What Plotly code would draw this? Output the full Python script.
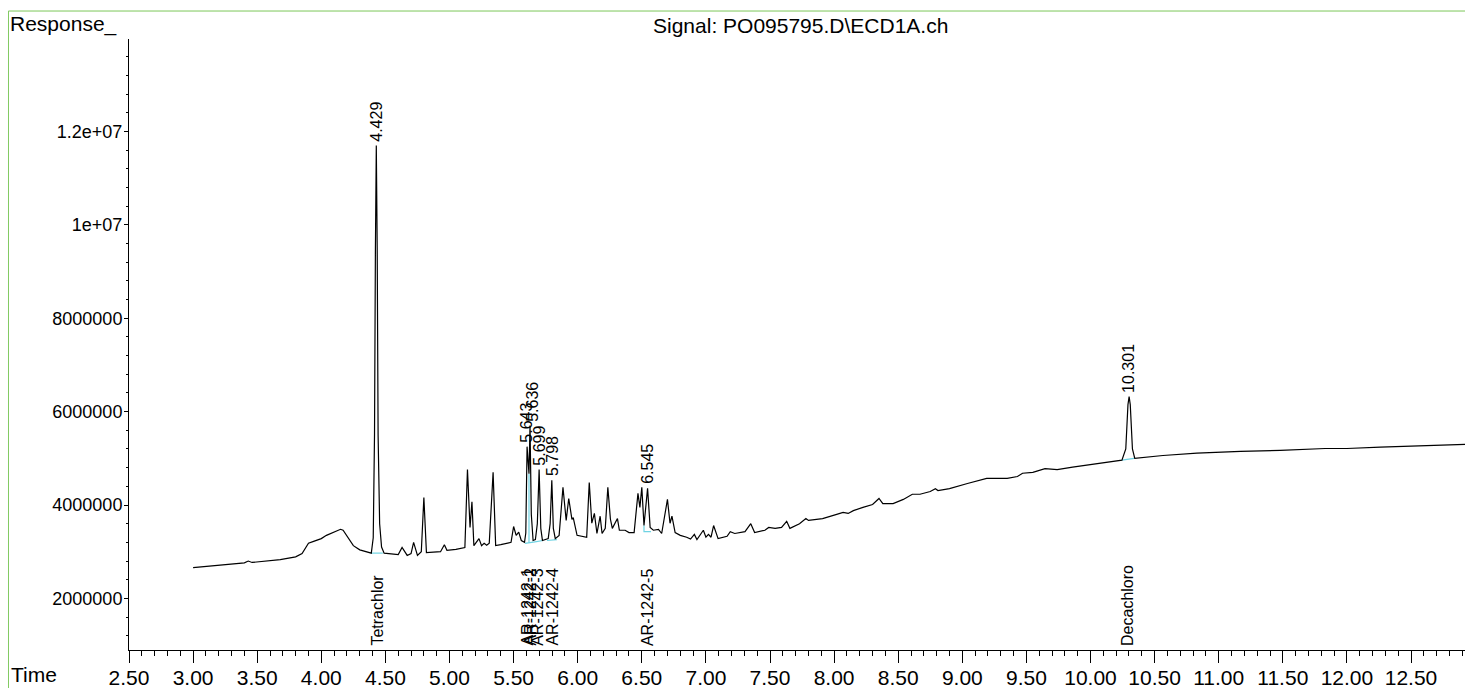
import plotly.graph_objects as go

# ---------------- data ----------------
time_min = [
    3.00, 3.20, 3.40, 3.43, 3.46, 3.68, 3.80, 3.85, 3.90, 3.94, 4.00, 4.04, 4.10, 4.15, 4.17,
    4.21, 4.25, 4.30, 4.35, 4.39, 4.405, 4.415, 4.422, 4.429, 4.436, 4.443, 4.455, 4.47, 4.49,
    4.55, 4.60, 4.63, 4.67, 4.70, 4.72, 4.75, 4.78, 4.80, 4.82, 4.93, 4.96, 4.98, 5.05, 5.12,
    5.14, 5.16, 5.175, 5.19, 5.21, 5.23, 5.25, 5.27, 5.29, 5.31, 5.34, 5.36, 5.40, 5.45, 5.48,
    5.50, 5.52, 5.54, 5.56, 5.585, 5.595, 5.605, 5.613, 5.620, 5.628, 5.638, 5.652, 5.67,
    5.685, 5.699, 5.712, 5.725, 5.77, 5.785, 5.798, 5.81, 5.825, 5.855, 5.885, 5.91, 5.93,
    5.955, 5.965, 5.995, 6.07, 6.09, 6.11, 6.13, 6.15, 6.175, 6.19, 6.215, 6.235, 6.255, 6.27,
    6.31, 6.325, 6.37, 6.40, 6.44, 6.47, 6.485, 6.50, 6.517, 6.545, 6.565, 6.59, 6.63, 6.655,
    6.70, 6.72, 6.735, 6.76, 6.80, 6.85, 6.88, 6.91, 6.93, 6.98, 7.00, 7.02, 7.04, 7.06, 7.095,
    7.165, 7.19, 7.225, 7.305, 7.35, 7.38, 7.46, 7.49, 7.54, 7.59, 7.63, 7.655, 7.73, 7.78,
    7.80, 7.91, 8.02, 8.07, 8.11, 8.15, 8.225, 8.30, 8.35, 8.38, 8.46, 8.54, 8.61, 8.67, 8.75,
    8.79, 8.81, 8.90, 9.04, 9.11, 9.19, 9.35, 9.43, 9.47, 9.55, 9.645, 9.74, 9.86, 10.06,
    10.15, 10.245, 10.275, 10.292, 10.301, 10.310, 10.327, 10.345, 10.565, 10.83, 11.17,
    11.48, 11.83, 12.00, 12.26, 12.52, 12.78, 12.96,
]
response = [
    2.66e6, 2.71e6, 2.76e6, 2.80e6, 2.77e6, 2.83e6, 2.89e6, 2.96e6, 3.18e6, 3.22e6, 3.28e6, 3.35e6, 3.42e6, 3.48e6, 3.46e6,
    3.30e6, 3.13e6, 3.04e6, 3.00e6, 2.97e6, 3.30e6, 5.50e6, 9.50e6, 11.70e6, 9.50e6, 5.50e6, 3.60e6, 3.10e6, 2.97e6,
    2.95e6, 2.94e6, 3.09e6, 2.92e6, 2.96e6, 3.20e6, 2.92e6, 3.00e6, 4.16e6, 2.98e6, 3.00e6, 3.15e6, 3.03e6, 3.05e6, 3.09e6,
    4.76e6, 3.52e6, 4.07e6, 3.13e6, 3.20e6, 3.28e6, 3.13e6, 3.18e6, 3.14e6, 3.18e6, 4.70e6, 3.13e6, 3.15e6, 3.18e6, 3.20e6,
    3.54e6, 3.35e6, 3.42e6, 3.24e6, 3.20e6, 3.40e6, 5.25e6, 4.75e6, 4.67e6, 5.70e6, 3.80e6, 3.24e6, 3.26e6,
    3.60e6, 4.76e6, 3.50e6, 3.24e6, 3.28e6, 3.60e6, 4.53e6, 3.50e6, 3.28e6, 3.35e6, 4.38e6, 3.67e6, 4.14e6,
    3.69e6, 3.73e6, 3.35e6, 3.31e6, 4.48e6, 3.61e6, 3.82e6, 3.39e6, 3.76e6, 3.39e6, 3.50e6, 4.38e6, 3.70e6, 3.50e6,
    3.71e6, 3.46e6, 3.46e6, 3.41e6, 3.41e6, 4.25e6, 3.95e6, 4.38e6, 3.56e6, 4.36e6, 3.52e6, 3.46e6, 3.48e6, 3.39e6,
    4.12e6, 3.61e6, 3.76e6, 3.41e6, 3.35e6, 3.31e6, 3.27e6, 3.37e6, 3.26e6, 3.46e6, 3.31e6, 3.37e6, 3.31e6, 3.56e6, 3.28e6,
    3.33e6, 3.43e6, 3.39e6, 3.43e6, 3.60e6, 3.41e6, 3.46e6, 3.52e6, 3.50e6, 3.52e6, 3.65e6, 3.50e6, 3.60e6, 3.71e6,
    3.67e6, 3.71e6, 3.80e6, 3.84e6, 3.82e6, 3.88e6, 3.95e6, 4.01e6, 4.14e6, 4.03e6, 4.03e6, 4.12e6, 4.23e6, 4.23e6, 4.29e6,
    4.35e6, 4.31e6, 4.35e6, 4.46e6, 4.51e6, 4.57e6, 4.57e6, 4.61e6, 4.68e6, 4.70e6, 4.78e6, 4.76e6, 4.81e6, 4.89e6,
    4.93e6, 4.96e6, 5.20e6, 6.15e6, 6.32e6, 6.15e6, 5.20e6, 5.00e6, 5.06e6, 5.11e6, 5.15e6,
    5.17e6, 5.21e6, 5.21e6, 5.24e6, 5.26e6, 5.28e6, 5.30e6,
]

# integration baselines (cyan), separated by None
base_t = [4.388, 4.48, None, 5.589, 5.667, None, 5.620, 5.620, None, 5.667, 5.729, None,
          5.760, 5.838, None, 6.517, 6.517, 6.572, None, 10.245, 10.340]
base_v = [2.97e6, 2.97e6, None, 3.18e6, 3.21e6, None, 3.19e6, 4.67e6, None, 3.21e6, 3.24e6, None,
          3.24e6, 3.26e6, None, 3.56e6, 3.43e6, 3.43e6, None, 4.96e6, 5.00e6]

peak_labels = ["4.429", "5.643", "5.636", "5.699", "5.798", "6.545", "10.301"]
peak_label_t = [4.429, 5.605, 5.645, 5.699, 5.798, 6.545, 10.290]
peak_label_v = [11.70e6, 5.25e6, 5.70e6, 4.76e6, 4.53e6, 4.36e6, 6.32e6]

compound_names = ["Tetrachlor", "AR-1242-1", "AR-1242-2", "AR-1242-3", "AR-1242-4", "AR-1242-5", "Decachloro"]
compound_t = [4.435, 5.605, 5.628, 5.685, 5.800, 6.545, 10.288]

y_tick_vals = [2e6, 4e6, 6e6, 8e6, 1e7, 1.2e7]
y_tick_text = ["2000000", "4000000", "6000000", "8000000", "1e+07", "1.2e+07"]

title_text = "Signal: PO095795.D\\ECD1A.ch"

# ---------------- figure ----------------
FONT = "Liberation Sans, Arial, sans-serif"
fig = go.Figure()
fig.add_trace(go.Scatter(x=base_t, y=base_v, mode="lines",
                         line=dict(color="#6fd3e3", width=1.2), hoverinfo="skip", connectgaps=False))
fig.add_trace(go.Scatter(x=time_min, y=response, mode="lines",
                         line=dict(color="black", width=1.2)))

annotations = []
for txt, t, v in zip(peak_labels, peak_label_t, peak_label_v):
    annotations.append(dict(x=t, y=v, xref="x", yref="y", text=txt, showarrow=False,
                            textangle=-90, xanchor="center", yanchor="bottom", yshift=2,
                            font=dict(family=FONT, size=16, color="black")))
for txt, t in zip(compound_names, compound_t):
    annotations.append(dict(x=t, y=0, xref="x", yref="paper", text=txt, showarrow=False,
                            textangle=-90, xanchor="center", yanchor="bottom", yshift=2,
                            font=dict(family=FONT, size=16, color="black")))
annotations.append(dict(x=0.5004, y=1.0229, xref="paper", yref="paper", text=title_text,
                        showarrow=False, xanchor="center", yanchor="middle",
                        font=dict(family=FONT, size=21, color="black")))
annotations.append(dict(x=-0.0902, y=1.0245, xref="paper", yref="paper", text="Response_",
                        showarrow=False, xanchor="left", yanchor="middle",
                        font=dict(family=FONT, size=21, color="black")))
annotations.append(dict(x=-0.0887, y=-0.040, xref="paper", yref="paper", text="Time",
                        showarrow=False, xanchor="left", yanchor="middle", borderpad=0,
                        font=dict(family=FONT, size=21, color="black")))

fig.update_layout(
    width=1465, height=680, autosize=False,
    margin=dict(l=121, r=3, t=31, b=38, pad=0),
    plot_bgcolor="white", paper_bgcolor="white",
    showlegend=False,
    annotations=annotations,
    shapes=[dict(type="rect", xref="paper", yref="paper", x0=-0.0899, x1=1.3, y0=-0.3, y1=1.0458,
                 line=dict(color="#7cc75a", width=1), layer="above")],
    xaxis=dict(range=[2.5, 12.96], showline=True, linecolor="black", linewidth=1,
               automargin=False,
               ticks="outside", ticklen=12, tickcolor="black", tickwidth=1,
               tickmode="linear", tick0=2.5, dtick=0.5, tickformat=".2f",
               ticklabelstandoff=-3,
               showgrid=False, zeroline=False,
               tickfont=dict(family=FONT, size=21, color="black"),
               minor=dict(ticks="outside", ticklen=5, tickcolor="black", dtick=0.1, tick0=2.5, showgrid=False)),
    yaxis=dict(range=[0.895e6, 13.98e6], showline=True, linecolor="black", linewidth=1,
               automargin=False,
               ticks="outside", ticklen=4, tickcolor="black", tickwidth=1,
               tickmode="array", tickvals=y_tick_vals, ticktext=y_tick_text,
               ticklabelstandoff=-2,
               showgrid=False, zeroline=False,
               tickfont=dict(family=FONT, size=18, color="black"),
               minor=dict(ticks="outside", ticklen=2, tickcolor="black", dtick=4e5, tick0=0, showgrid=False)),
)

fig.write_html("out.html")
